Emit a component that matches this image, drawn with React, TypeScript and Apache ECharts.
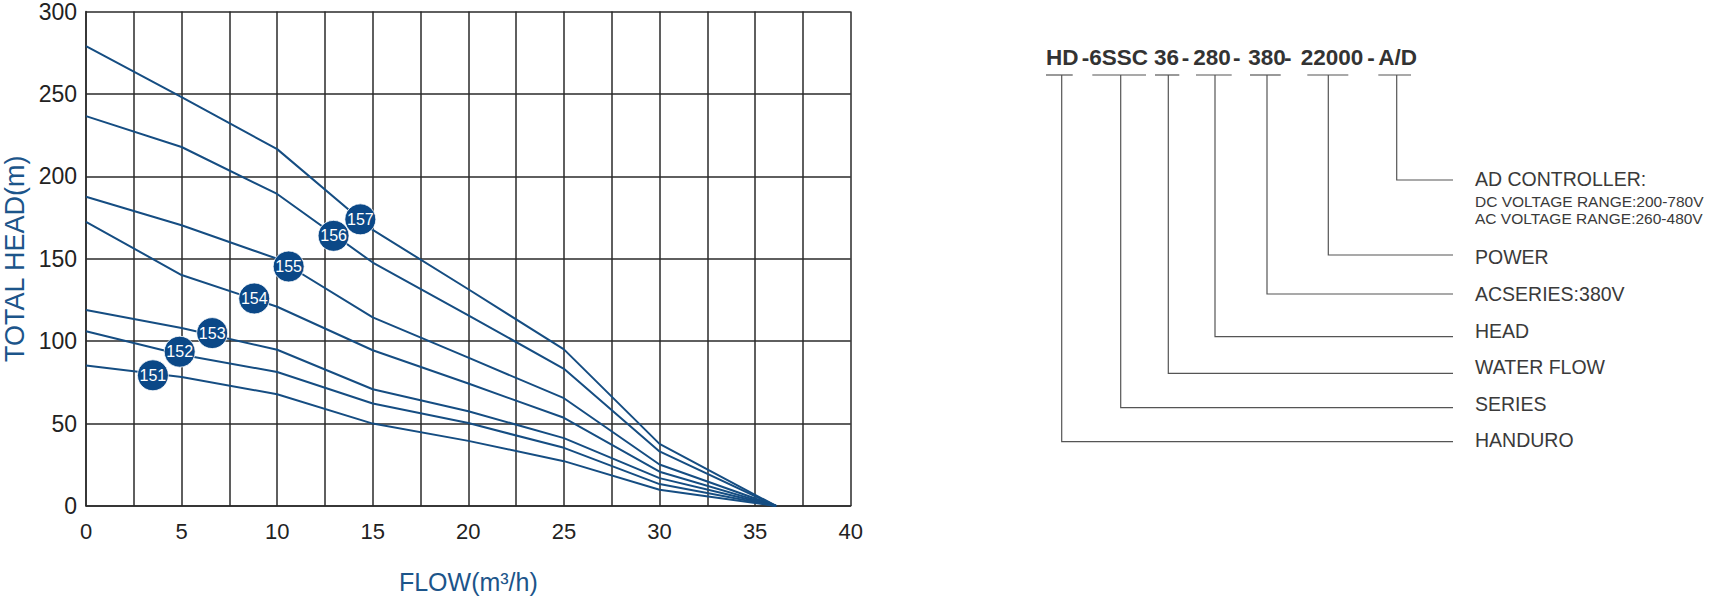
import React, { useEffect, useRef } from "react";
import * as echarts from "echarts";

// ---- data ----
const flowPoints = [0, 5, 10, 15, 20, 25, 30, 36.1];
const curve157 = [279, 248, 216.5, 167.5, 131.5, 95, 37.7, 0];
const curve156 = [236.5, 217.8, 189.3, 147.7, 115.7, 83.2, 33.1, 0];
const curve155 = [187.6, 170.3, 150, 114.4, 90, 65.4, 25.2, 0];
const curve154 = [172.4, 140.1, 120.9, 94.5, 74.3, 53.5, 20.8, 0];
const curve153 = [118.9, 108, 94.8, 70.8, 57.5, 41.2, 16.9, 0];
const curve152 = [106, 91.8, 81.3, 62.2, 50.3, 35.3, 13.3, 0];
const curve151 = [85.2, 78.3, 67.8, 50, 39.5, 27.2, 9.9, 0];
const curveNames = ["157", "156", "155", "154", "153", "152", "151"];
const curves = [curve157, curve156, curve155, curve154, curve153, curve152, curve151];

const markerLabels = ["151", "152", "153", "154", "155", "156", "157"];
const markerFlow = [3.5, 4.9, 6.6, 8.8, 10.6, 12.95, 14.35];
const markerHead = [79.3, 93.6, 104.9, 125.9, 145.3, 163.9, 173.9];

const xTicks = [0, 5, 10, 15, 20, 25, 30, 35, 40];

const codeParts = ["HD", "-6SSC", "36", "-", "280", "-", "380", "-", "22000", "-", "A/D"];
const descLabels = ["HANDURO", "SERIES", "WATER FLOW", "HEAD", "ACSERIES:380V", "POWER", "AD CONTROLLER:"];
const controllerNotes = ["DC VOLTAGE RANGE:200-780V", "AC VOLTAGE RANGE:260-480V"];

// ---- layout ----
const codeX = [1046, 1081.7, 1154, 1181.7, 1193.3, 1233, 1248.3, 1284, 1300.7, 1367.3, 1378.3];
const underlines: [number, number][] = [
  [1046, 1072.7],
  [1092.3, 1146],
  [1155, 1179.3],
  [1196, 1231.7],
  [1250, 1280.7],
  [1307.3, 1348.3],
  [1378.3, 1411],
];
const leaderX = [1061.7, 1120.7, 1168.3, 1215, 1267, 1328.3, 1396.7];
const leaderY = [441.7, 407.7, 373.3, 336.7, 294, 255, 180];
const labelY = [440, 404, 367.3, 331, 294.3, 256.7, 179.3];
const noteY = [201.7, 218.3];

const LINE_COLOR = "#154d82";
const DOT_COLOR = "#0b4887";
const NAME_COLOR = "#1c558a";
const GRID_COLOR = "#2a2a2a";
const FONT = "'Liberation Sans', Arial, Helvetica, sans-serif";

export default function App() {
  const ref = useRef<HTMLDivElement>(null);

  useEffect(() => {
    document.body.style.margin = "0";
    const chart = echarts.init(ref.current!, undefined, { renderer: "svg" });

    const lineSeries = curves.map((c, i) => ({
      name: curveNames[i],
      type: "line",
      data: flowPoints.map((f, k) => [f, c[k]]),
      showSymbol: false,
      symbol: "none",
      lineStyle: { color: LINE_COLOR, width: 2 },
      z: 3,
      silent: true,
    }));

    const markerSeries = {
      name: "markers",
      type: "scatter",
      data: markerFlow.map((f, i) => ({ value: [f, markerHead[i]], name: markerLabels[i] })),
      symbol: "circle",
      symbolSize: 31,
      itemStyle: { color: DOT_COLOR, opacity: 1, borderColor: "#ffffff", borderWidth: 0.8 },
      label: {
        show: true,
        position: "inside",
        formatter: (p: any) => p.name,
        color: "#ffffff",
        fontSize: 16,
        fontFamily: FONT,
      },
      z: 5,
    };

    const graphics: any[] = [];
    codeParts.forEach((t, i) => {
      graphics.push({
        type: "text",
        x: codeX[i],
        y: 57,
        style: {
          text: t,
          fill: "#333333",
          font: `bold 22.5px ${FONT}`,
          align: "left",
          verticalAlign: "middle",
        },
      });
    });
    underlines.forEach(([a, b]) => {
      graphics.push({
        type: "line",
        shape: { x1: a, y1: 75, x2: b, y2: 75 },
        style: { stroke: "#555555", lineWidth: 1.2 },
      });
    });
    leaderX.forEach((lx, i) => {
      graphics.push({
        type: "polyline",
        shape: { points: [[lx, 75], [lx, leaderY[i]], [1453, leaderY[i]]] },
        style: { stroke: "#555555", lineWidth: 1.2, fill: "none" },
      });
      graphics.push({
        type: "text",
        x: 1475,
        y: labelY[i],
        style: {
          text: descLabels[i],
          fill: "#3a3a3a",
          font: `19.5px ${FONT}`,
          align: "left",
          verticalAlign: "middle",
        },
      });
    });
    controllerNotes.forEach((t, i) => {
      graphics.push({
        type: "text",
        x: 1475,
        y: noteY[i],
        style: {
          text: t,
          fill: "#3a3a3a",
          font: `15.5px ${FONT}`,
          align: "left",
          verticalAlign: "middle",
        },
      });
    });

    chart.setOption({
      animation: false,
      backgroundColor: "#ffffff",
      grid: { left: 84, top: 7, right: 862.3, bottom: 87.3, containLabel: false },
      xAxis: {
        type: "value",
        min: 0,
        max: 40,
        interval: 2.5,
        name: "FLOW(m³/h)",
        nameLocation: "middle",
        nameGap: 63,
        nameTextStyle: { color: NAME_COLOR, fontSize: 25, fontFamily: FONT },
        axisLine: { show: true, lineStyle: { color: GRID_COLOR, width: 1.5 } },
        axisTick: { show: false },
        axisLabel: {
          color: "#222222",
          fontSize: 22,
          fontFamily: FONT,
          margin: 14,
          formatter: (v: number) => (xTicks.indexOf(v) >= 0 ? String(v) : ""),
        },
        splitLine: { show: true, lineStyle: { color: GRID_COLOR, width: 1.5 } },
      },
      yAxis: {
        type: "value",
        min: 0,
        max: 300,
        interval: 50,
        name: "TOTAL HEAD(m)",
        nameLocation: "middle",
        nameRotate: 90,
        nameGap: 58,
        nameTextStyle: { color: NAME_COLOR, fontSize: 27, fontFamily: FONT },
        axisLine: { show: true, lineStyle: { color: GRID_COLOR, width: 1.5 } },
        axisTick: { show: false },
        axisLabel: { color: "#222222", fontSize: 23, fontFamily: FONT, margin: 9 },
        splitLine: { show: true, lineStyle: { color: GRID_COLOR, width: 1.5 } },
      },
      series: [...lineSeries, markerSeries],
      graphic: graphics,
    });

    return () => chart.dispose();
  }, []);

  return (
    <div
      ref={ref}
      style={{ position: "fixed", left: 0, top: 0, width: 1713, height: 599, background: "#fff" }}
    />
  );
}
